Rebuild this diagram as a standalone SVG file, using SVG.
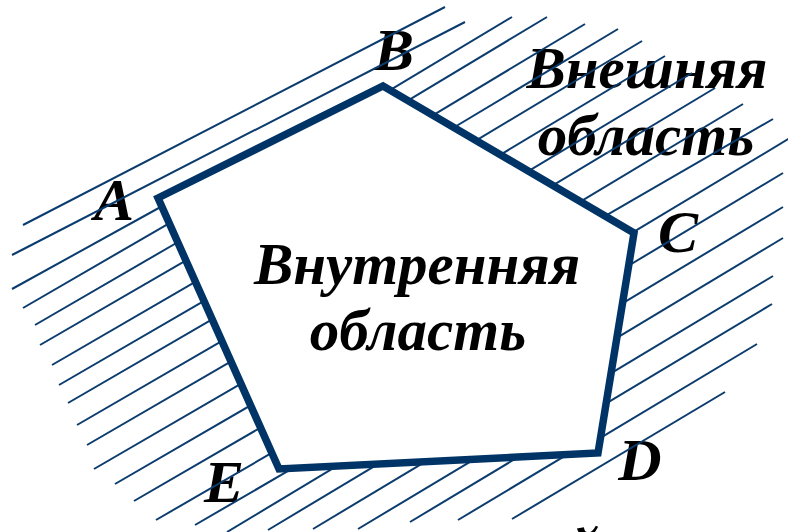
<svg xmlns="http://www.w3.org/2000/svg" width="788" height="532" viewBox="0 0 788 532">
<style>
.t{font-family:"Liberation Serif","Times New Roman",serif;font-weight:bold;font-style:italic;fill:#000;}
.big{font-size:59px;}
.lbl{font-size:60px;}
.h line{stroke:#0b3c6d;stroke-width:2;stroke-linecap:butt;}
.poly{fill:#fff;stroke:#003466;stroke-width:7.5;stroke-linejoin:miter;}
</style>
<rect width="788" height="532" fill="#fff"/>
<g id="outer-labels">
<text class="t lbl" x="114" y="220" text-anchor="middle">A</text>
<text class="t lbl" x="394" y="70" text-anchor="middle">B</text>
<text class="t lbl" x="678" y="252" text-anchor="middle">C</text>
<text class="t lbl" x="640" y="480" text-anchor="middle">D</text>
<text class="t lbl" x="224" y="502" text-anchor="middle">E</text>
<text class="t big" x="647" y="88" text-anchor="middle">Внешняя</text>
<text class="t big" x="646" y="155" text-anchor="middle">область</text>
<text class="t big" x="584" y="569" text-anchor="middle">й</text>
</g>
<g id="hatching" class="h">
<line x1="23" y1="225" x2="445" y2="7"/>
<line x1="12" y1="255" x2="465" y2="22"/>
<line x1="12" y1="289" x2="166" y2="204"/>
<line x1="23" y1="308" x2="176" y2="219.3"/>
<line x1="35" y1="325" x2="185" y2="238"/>
<line x1="40" y1="345" x2="193" y2="256.3"/>
<line x1="52" y1="365" x2="203" y2="277.4"/>
<line x1="59" y1="385" x2="211" y2="296.8"/>
<line x1="68" y1="403" x2="219" y2="315.4"/>
<line x1="77" y1="425" x2="229" y2="336.8"/>
<line x1="87" y1="445" x2="238" y2="357.4"/>
<line x1="94" y1="469" x2="248" y2="379.7"/>
<line x1="115" y1="484" x2="258" y2="401.1"/>
<line x1="134" y1="501" x2="268" y2="423.3"/>
<line x1="156" y1="520" x2="279" y2="448.7"/>
<line x1="195" y1="525" x2="292" y2="468.7"/>
<line x1="227" y1="532" x2="345" y2="461.2"/>
<line x1="268" y1="530" x2="385" y2="459.8"/>
<line x1="313" y1="529" x2="430" y2="458.8"/>
<line x1="358" y1="529" x2="485" y2="452.8"/>
<line x1="410" y1="522" x2="530" y2="450"/>
<line x1="458" y1="520" x2="575" y2="449.8"/>
<line x1="512" y1="519" x2="725" y2="392"/>
<line x1="590" y1="444.2" x2="757" y2="344"/>
<line x1="595" y1="410.2" x2="772" y2="304"/>
<line x1="600" y1="379.8" x2="773" y2="276"/>
<line x1="606" y1="344.4" x2="783" y2="238"/>
<line x1="612" y1="309.6" x2="783" y2="207"/>
<line x1="618" y1="272" x2="783" y2="173"/>
<line x1="622" y1="238.8" x2="790" y2="138"/>
<line x1="595" y1="221.8" x2="773" y2="119"/>
<line x1="570" y1="207.8" x2="743" y2="104"/>
<line x1="542" y1="191.8" x2="715" y2="88"/>
<line x1="518" y1="177.4" x2="692" y2="73"/>
<line x1="490" y1="161" x2="665" y2="56"/>
<line x1="465" y1="147.2" x2="642" y2="41"/>
<line x1="443" y1="134" x2="618" y2="29"/>
<line x1="422" y1="121.8" x2="585" y2="24"/>
<line x1="397" y1="107.2" x2="547" y2="17"/>
<line x1="380" y1="96.2" x2="512" y2="17"/>
</g>
<g id="pentagon">
<polygon class="poly" points="158,198 383,86 634,233 598,453 279,469"/>
</g>
<g id="inner-label">
<text class="t big" x="417" y="284" text-anchor="middle">Внутренняя</text>
<text class="t big" x="418" y="350" text-anchor="middle">область</text>
</g>
</svg>
